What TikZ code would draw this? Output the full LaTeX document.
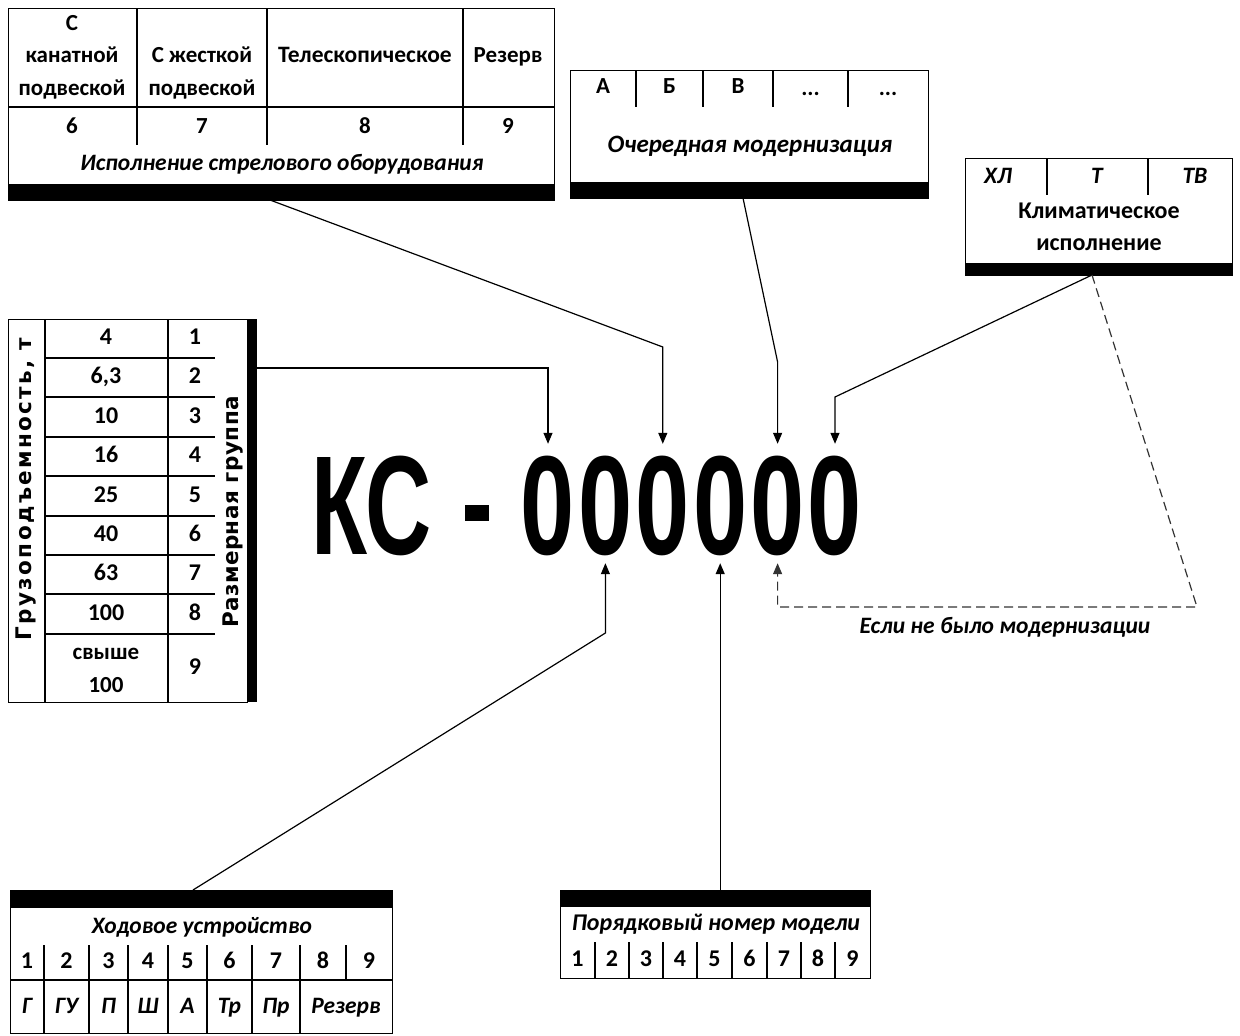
\documentclass[tikz,border=0pt]{standalone}
\usepackage{fontspec}
\setmainfont{Carlito}
\newfontfamily\sidefont{DejaVu Sans}
\newfontfamily\bigfont{Liberation Sans}
\usetikzlibrary{arrows.meta,calc}

\tikzset{
  frame/.style={draw, line width=1.3pt, inner sep=0pt, anchor=north west},
  bar/.style={fill=black, inner sep=0pt},
  rule/.style={line width=1.1pt},
  lbl/.style={font=\fontsize{23}{25}\selectfont\bfseries, inner sep=0pt,
    text height=15pt, text depth=5pt},
  ilbl/.style={font=\fontsize{23.5}{25}\selectfont\bfseries\itshape, inner sep=0pt,
    text height=15pt, text depth=5pt},
  sidelbl/.style={font=\sidefont\fontsize{21.5}{24}\selectfont\bfseries, inner sep=0pt, rotate=90},
  conn/.style={line width=1.2pt, -{Triangle[length=11pt,width=9pt]}},
  dconn/.style={conn, dash pattern=on 9pt off 5pt, draw=black!80},
  digit/.style={font=\bigfont\fontsize{141}{141}\selectfont\bfseries, inner xsep=0pt,
    inner ysep=9pt, text height=101pt, text depth=0pt, anchor=base},
}

\begin{document}
\begin{tikzpicture}[x=1pt, y=-1pt]
\useasboundingbox (0,0) rectangle (1240,1036);

% ---------- crane index ----------
\node[digit] (ks) at (371.5,554) {\scalebox{0.65}[1]{КС}};
\node[fill=black, minimum width=24pt, minimum height=16pt, inner sep=0pt] (dash) at (477,513) {};
\foreach \i in {1,...,6} {
  \node[digit] (d\i) at ({548+57.4*(\i-1)},554) {\scalebox{0.69}[1]{0}};
}

% ---------- boom equipment ----------
\node[frame, minimum width=546pt, minimum height=192pt] (boom) at (8,8) {};
\node[bar, anchor=south west, minimum width=546pt, minimum height=17pt] (boombar) at (boom.south west) {};
\draw[rule] (8,107) -- (554,107);
\foreach \x in {137,267,463} \draw[rule] (\x,8) -- (\x,145);
\node[lbl] (b1a) at (72,25) {С};
\node[lbl] (b1b) at (72,57) {канатной};
\node[lbl] (b1c) at (72,90) {подвеской};
\node[lbl] (b2a) at (202,57) {С жесткой};
\node[lbl] (b2b) at (202,90) {подвеской};
\node[lbl, font=\fontsize{23.5}{25}\selectfont\bfseries] (b3) at (365,57) {Телескопическое};
\node[lbl] (b4) at (508,57) {Резерв};
\node[lbl] (bn6) at (72,128) {6};
\node[lbl] (bn7) at (202,128) {7};
\node[lbl] (bn8) at (365,128) {8};
\node[lbl] (bn9) at (508,128) {9};
\node[ilbl] (boomcap) at (282,165) {Исполнение стрелового оборудования};

% ---------- modernisation ----------
\node[frame, minimum width=358pt, minimum height=128pt] (mod) at (570,70) {};
\node[bar, anchor=south west, minimum width=358pt, minimum height=17pt] (modbar) at (mod.south west) {};
\foreach \x in {636,703,773,848} \draw[rule] (\x,70) -- (\x,107);
\node[lbl] (mA) at (603,88) {А};
\node[lbl] (mB) at (669.5,88) {Б};
\node[lbl] (mV) at (738,88) {В};
\node[lbl] (mD1) at (810.5,90) {...};
\node[lbl] (mD2) at (888,90) {...};
\node[ilbl, font=\fontsize{25}{26}\selectfont\bfseries\itshape] (modcap) at (750,147) {Очередная модернизация};

% ---------- climatic version ----------
\node[frame, minimum width=267pt, minimum height=117pt] (clim) at (965,158) {};
\node[bar, anchor=south west, minimum width=267pt, minimum height=13pt] (climbar) at (clim.south west) {};
\foreach \x in {1047,1148} \draw[rule] (\x,158) -- (\x,195);
\node[ilbl] (cHL) at (998,178) {ХЛ};
\node[ilbl] (cT) at (1097,178) {Т};
\node[ilbl] (cTV) at (1195,178) {ТВ};
\node[lbl, font=\fontsize{24}{25}\selectfont\bfseries] (climcap1) at (1099,213) {Климатическое};
\node[lbl, font=\fontsize{24}{25}\selectfont\bfseries] (climcap2) at (1099,245) {исполнение};

% ---------- load capacity / size group ----------
\node[frame, minimum width=239pt, minimum height=383pt] (load) at (8,319) {};
\node[bar, anchor=north west, minimum width=10pt, minimum height=383pt] (loadbar) at (247,319) {};
\draw[rule] (45,319) -- (45,702);
\draw[rule] (168,319) -- (168,702);
\foreach \y in {358,397,437,476,516,555,594,634} \draw[rule] (45,\y) -- (215,\y);
\foreach \v [count=\k] in {4,{6,3},10,16,25,40,63,100} {
  \node[lbl, font=\fontsize{24}{25}\selectfont\bfseries] (lv\k) at (106,{319+39.4*(\k-1)+20.5}) {\v};
  \node[lbl, font=\fontsize{24}{25}\selectfont\bfseries] (lg\k) at (195,{319+39.4*(\k-1)+20.5}) {\k};
}
\node[lbl] (lv9a) at (106,654) {свыше};
\node[lbl] (lv9b) at (106,687) {100};
\node[lbl, font=\fontsize{24}{25}\selectfont\bfseries] (lg9) at (195,669) {9};
\node[sidelbl] (loadcap) at (26,489) {\addfontfeatures{LetterSpace=11}Грузоподъемность, т};
\node[sidelbl] (groupcap) at (233,512) {\addfontfeatures{LetterSpace=2}Размерная группа};

% ---------- running gear ----------
\node[frame, minimum width=382pt, minimum height=143pt] (gear) at (10,890) {};
\node[bar, anchor=north west, minimum width=382pt, minimum height=18pt] (gearbar) at (gear.north west) {};
\draw[rule] (10,980) -- (392,980);
\foreach \x in {44,89,128,168,207,252,300} \draw[rule] (\x,945) -- (\x,1033);
\draw[rule] (346,945) -- (346,980);
\node[ilbl] (gearcap) at (202,928) {Ходовое устройство};
\foreach \x [count=\k] in {27,66.5,108.5,148,187.5,229.5,276,323,369} {
  \node[lbl, font=\fontsize{24}{25}\selectfont\bfseries] (gn\k) at (\x,963) {\k};
}
\node[ilbl] (gG) at (27,1008) {Г};
\node[ilbl] (gGU) at (66.5,1008) {ГУ};
\node[ilbl] (gP) at (108.5,1008) {П};
\node[ilbl] (gSh) at (148,1008) {Ш};
\node[ilbl] (gA) at (187.5,1008) {А};
\node[ilbl] (gTr) at (229.5,1008) {Тр};
\node[ilbl] (gPr) at (276,1008) {Пр};
\node[ilbl] (gRes) at (346,1008) {Резерв};

% ---------- model number ----------
\node[frame, minimum width=310pt, minimum height=88pt] (model) at (560,890) {};
\node[bar, anchor=north west, minimum width=310pt, minimum height=17pt] (modelbar) at (model.north west) {};
\foreach \x in {595,629,663,697,732,767,801,835} \draw[rule] (\x,942) -- (\x,978);
\node[ilbl, font=\fontsize{24}{25}\selectfont\bfseries\itshape] (modelcap) at (716,925) {Порядковый номер модели};
\foreach \x [count=\k] in {577.5,612,646,680,714.5,749.5,784,818,852.5} {
  \node[lbl, font=\fontsize{24}{25}\selectfont\bfseries] (mn\k) at (\x,961) {\k};
}

\node[ilbl] (nomod) at (1005,628) {Если не было модернизации};

% ---------- connectors ----------
\coordinate (gtap) at (257,368);
\coordinate (boomtap) at (270,200);
\coordinate (boomknee) at (663,347);
\coordinate (modtap) at (743,198);
\coordinate (modknee) at (777,362);
\coordinate (climtap) at (1092,275);
\coordinate (climknee) at (835,397);
\coordinate (dashknee) at (1197,607);
\coordinate (chastap) at (193,890);
\coordinate (chasknee) at (607,633);
\coordinate (modeltap) at (d4.south |- modelbar.north);

\draw[conn] (gtap) -- (gtap -| d1.north) -- (d1.north);
\draw[conn] (boomtap) -- (boomknee -| d3.north) -- (d3.north);
\draw[conn] (modtap) -- (modknee -| d5.north) -- (d5.north);
\draw[conn] (climtap) -- (climknee -| d6.north) -- (d6.north);
\draw[dconn] (climtap) -- (dashknee) -- (dashknee -| d5.south) -- (d5.south);
\draw[conn] (chastap) -- (chasknee -| d2.south) -- (d2.south);
\draw[conn] (modeltap) -- (d4.south);
\end{tikzpicture}
\end{document}
